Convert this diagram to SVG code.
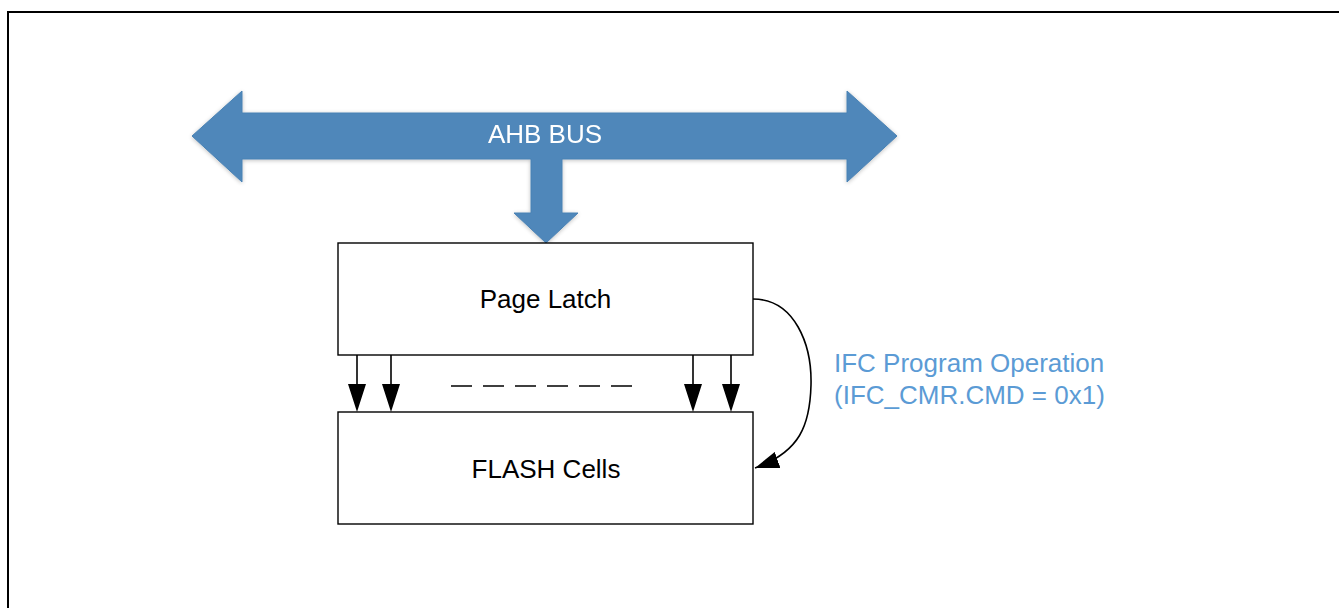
<svg xmlns="http://www.w3.org/2000/svg" width="1339" height="608" viewBox="0 0 1339 608">
<style>
.box{fill:#fff;stroke:#000;stroke-width:1.4}
.lbl{font-family:"Liberation Sans",Arial,sans-serif;font-size:26px;fill:#000;text-anchor:middle}
.bus{fill:#4F87BA;stroke:#4A82B4;stroke-width:1}
.conn{fill:none;stroke:#000;stroke-width:1.6}
.note{font-family:"Liberation Sans",Arial,sans-serif;font-size:26px;fill:#5B9BD5}
</style>
<defs>
<marker id="ah" viewBox="0 0 18 28" refX="9" refY="28" markerWidth="18" markerHeight="28" markerUnits="userSpaceOnUse" orient="auto-start-reverse">
<path d="M0,0 L18,0 L9,28 z" fill="#000" transform="rotate(0)"/>
</marker>
<marker id="ah2" viewBox="0 0 24 17" refX="24" refY="8.5" markerWidth="24" markerHeight="17" markerUnits="userSpaceOnUse" orient="auto">
<path d="M0,0 L24,8.5 L0,17 z" fill="#000"/>
</marker>
<filter id="glow" x="-10%" y="-20%" width="120%" height="140%">
<feGaussianBlur in="SourceAlpha" stdDeviation="2"/>
<feOffset dx="0" dy="1" result="b"/>
<feComponentTransfer><feFuncA type="linear" slope="0.25"/></feComponentTransfer>
<feMerge><feMergeNode/><feMergeNode in="SourceGraphic"/></feMerge>
</filter>
</defs>
<rect x="0" y="0" width="1339" height="608" fill="#fff"/>
<rect x="8" y="12" width="1345" height="610" fill="none" stroke="#000" stroke-width="2"/>
<g id="ahb-bus" filter="url(#glow)">
<path class="bus" d="M192,136 L242,91 L242,113 L847,113 L847,91 L897,136 L847,182 L847,159 L562,159 L562,213 L578,213 L546,243 L514,213 L531,213 L531,159 L242,159 L242,182 Z"/>
<text x="545" y="143" class="lbl" style="fill:#fff">AHB BUS</text>
</g>
<g id="page-latch">
<rect class="box" x="338" y="243" width="415" height="112"/>
<text x="545.5" y="308" class="lbl">Page Latch</text>
</g>
<g id="flash-cells">
<rect class="box" x="338" y="412" width="415" height="112"/>
<text x="546" y="478" class="lbl">FLASH Cells</text>
</g>
<g id="connectors">
<path d="M357,355 L357,384" class="conn"/>
<path d="M391,355 L391,384" class="conn"/>
<path d="M693,355 L693,384" class="conn"/>
<path d="M731,355 L731,384" class="conn"/>
<path d="M348,384 L366,384 L357,412 Z M382,384 L400,384 L391,412 Z M684,384 L702,384 L693,412 Z M722,384 L740,384 L731,412 Z" fill="#000"/>
<path d="M451,386 L632,386" class="conn" stroke-width="2" stroke-dasharray="21,11"/>
<path d="M753,299 C795,299 812,345 811,385 C810,425 800,452 755,468" class="conn" marker-end="url(#ah2)"/>
</g>
<g id="note">
<text x="834" y="372" class="note">IFC Program Operation</text>
<text x="834" y="404" class="note">(IFC_CMR.CMD = 0x1)</text>
</g>
</svg>
